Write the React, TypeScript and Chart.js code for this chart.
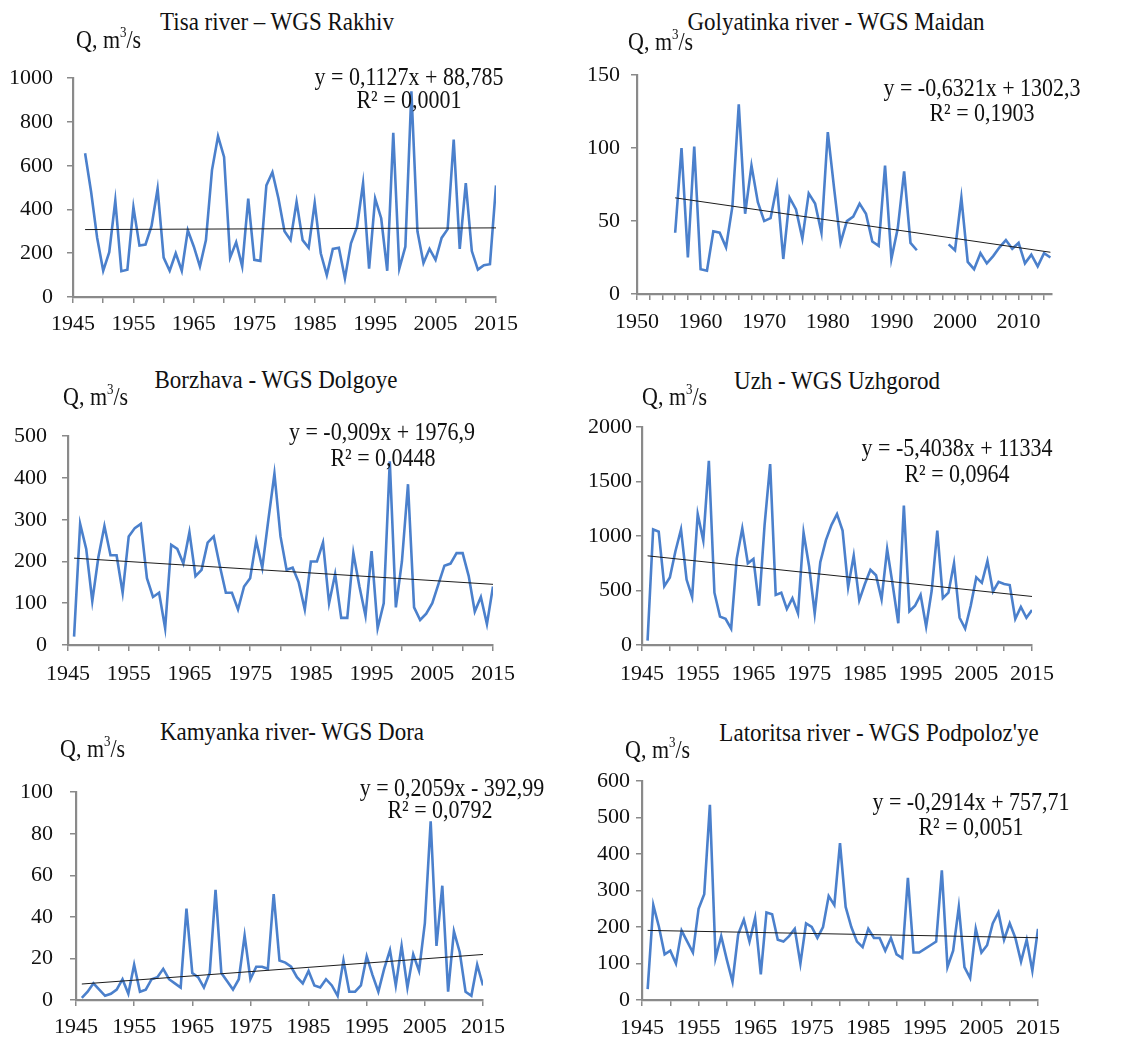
import React, { useEffect, useRef } from "react";
import { Chart, registerables } from "chart.js";

Chart.register(...registerables);

// ---------------- DATA ----------------
const tisaStart = 1947;
const tisaValues = [
  657, 480, 270, 120, 205, 440, 118, 125, 410, 235, 240, 325, 495, 180, 120, 200, 120, 305, 230, 140,
  260, 580, 735, 640, 180, 250, 140, 450, 170, 165, 510, 570, 450, 300, 260, 435, 260, 225, 430, 200,
  100, 220, 225, 85, 245, 320, 520, 130, 450, 360, 120, 750, 130, 230, 940, 300, 155, 220, 170, 270,
  310, 720, 220, 520, 210, 125, 145, 150, 510,
];

const golyatinkaStart = 1956;
const golyatinkaValues = [
  42, 100, 25, 101, 17, 16, 43, 42, 32, 60, 130, 55, 88, 63, 50, 52, 74, 24, 66, 58,
  38, 69, 62, 42, 111, 72, 35, 50, 53, 62, 55, 36, 33, 88, 24, 45, 84, 35, 30,
  null, null, null, null,
  34, 30, 66, 22, 17, 28, 21, 26, 32, 37, 31, 35, 21, 27, 19, 28, 25,
];

const borzhavaStart = 1946;
const borzhavaValues = [
  20, 290, 230, 105, 210, 285, 215, 215, 125, 260, 280, 290, 160, 115, 125, 40, 240, 230, 195, 270,
  165, 180, 245, 260, 190, 125, 125, 85, 140, 160, 250, 185, 300, 410, 260, 180, 185, 150, 85, 200,
  200, 245, 100, 170, 65, 65, 220, 140, 70, 225, 40, 100, 440, 90, 200, 385, 90, 60, 75, 100,
  145, 190, 195, 220, 220, 165, 80, 115, 50, 140,
];

const uzhStart = 1946;
const uzhValues = [
  40, 1060, 1040, 540, 620, 860, 1060, 600, 440, 1200, 960, 1690, 480, 260, 240, 150, 790, 1070, 750, 790,
  360, 1100, 1660, 460, 480, 330, 430, 290, 1030, 720, 290, 760, 960, 1100, 1200, 1050, 530, 820, 410, 560,
  690, 640, 420, 880, 550, 200, 1280, 310, 360, 460, 170, 500, 1050, 430, 480, 750, 250, 150, 360, 620,
  570, 770, 490, 580, 560, 550, 240, 350, 250, 320,
];

const kamyankaStart = 1946;
const kamyankaValues = [
  1, 4, 8, 5, 2, 3, 5, 10, 3, 17, 4, 5, 10, 11, 15, 10, 8, 6, 44, 13,
  11, 6, 13, 53, 13, 9, 5, 10, 31, 10, 16, 16, 15, 51, 19, 18, 16, 11, 8, 14,
  7, 6, 10, 7, 2, 19, 4, 4, 7, 21, 12, 4, 15, 24, 7, 26, 6, 22, 14, 37,
  86, 26, 55, 4, 33, 23, 4, 2, 17, 7,
];

const latoritsaStart = 1946;
const latoritsaValues = [
  30, 260, 200, 125, 135, 100, 190, 160, 130, 250, 290, 535, 115, 175, 110, 50, 180, 220, 160, 225,
  70, 240, 235, 165, 160, 175, 195, 100, 210, 200, 170, 200, 285, 260, 430, 255, 200, 160, 145, 195,
  170, 170, 135, 170, 125, 115, 335, 130, 130, 140, 150, 160, 355, 90, 135, 255, 90, 60, 195, 130,
  150, 210, 240, 165, 210, 170, 105, 165, 80, 195,
];

// Trendline equations (slope, intercept) as printed on the chart
const tisaTrend = [0.1127, 88.785];
const golyatinkaTrend = [-0.6321, 1302.3];
const borzhavaTrend = [-0.909, 1976.9];
const uzhTrend = [-5.4038, 11334];
const kamyankaTrend = [0.2059, -392.99];
const latoritsaTrend = [-0.2914, 757.71];

const titles = [
  "Tisa river \u2013 WGS Rakhiv",
  "Golyatinka river - WGS Maidan",
  "Borzhava - WGS Dolgoye",
  "Uzh - WGS Uzhgorod",
  "Kamyanka river- WGS Dora",
  "Latoritsa river - WGS Podpoloz'ye",
];
const equations = [
  "y = 0,1127x + 88,785",
  "y = -0,6321x + 1302,3",
  "y = -0,909x + 1976,9",
  "y = -5,4038x + 11334",
  "y = 0,2059x - 392,99",
  "y = -0,2914x + 757,71",
];
const rSquared = ["R\u00B2 = 0,0001", "R\u00B2 = 0,1903", "R\u00B2 = 0,0448", "R\u00B2 = 0,0964", "R\u00B2 = 0,0792", "R\u00B2 = 0,0051"];

// axis ranges / ticks
const xRanges = [[1945, 2015], [1950, 2015.25], [1945, 2015], [1945, 2015], [1945, 2015], [1945, 2015]];
const xMinorSteps = [5, 2, 5, 5, 10, 5];
const xLabelStep = 10;
const yMax = [1000, 150, 500, 2000, 100, 600];
const yStep = [200, 50, 100, 500, 20, 100];

// ---------------- STYLE / LAYOUT ----------------
const BLUE = "#4b80cc";
const AXIS = "#8a8a8a";
const TEXT = "#111";
const FONT = "'Liberation Serif', 'Times New Roman', serif";
const Y_W = 70;
const PAD_TOP = 20;
const PAD_RIGHT = 30;
const X_H = 40;

type Layout = {
  L: number; R: number; T: number; B: number;
  yGap: number; xPad: number;
  title: [number, number]; q: [number, number]; eq: [number, number]; r2: [number, number];
};

const layouts: Layout[] = [
  { L: 73, R: 496, T: 71, B: 297, yGap: 20, xPad: 8, title: [277, 22], q: [76, 40], eq: [409, 77], r2: [409, 100] },
  { L: 637, R: 1052, T: 71, B: 294, yGap: 17, xPad: 9, title: [836, 22], q: [628, 42], eq: [982, 88], r2: [982, 113] },
  { L: 68, R: 495, T: 428, B: 645, yGap: 21, xPad: 10, title: [276, 380], q: [63, 397], eq: [382, 432], r2: [383, 458] },
  { L: 642, R: 1034, T: 427, B: 645, yGap: 10, xPad: 10, title: [837, 381], q: [642, 397], eq: [957, 448], r2: [957, 474] },
  { L: 76, R: 483, T: 782, B: 1000, yGap: 23, xPad: 8, title: [292, 732], q: [60, 749], eq: [452, 788], r2: [440, 810] },
  { L: 642, R: 1039, T: 781, B: 1000, yGap: 12, xPad: 9, title: [879, 733], q: [625, 750], eq: [971, 802], r2: [971, 827] },
];

const series = [
  { start: tisaStart, values: tisaValues, trend: tisaTrend },
  { start: golyatinkaStart, values: golyatinkaValues, trend: golyatinkaTrend },
  { start: borzhavaStart, values: borzhavaValues, trend: borzhavaTrend },
  { start: uzhStart, values: uzhValues, trend: uzhTrend },
  { start: kamyankaStart, values: kamyankaValues, trend: kamyankaTrend },
  { start: latoritsaStart, values: latoritsaValues, trend: latoritsaTrend },
];

function Panel({ idx }: { idx: number }) {
  const ref = useRef<HTMLCanvasElement | null>(null);
  const lay = layouts[idx];
  const w = lay.R - lay.L + Y_W + PAD_RIGHT;
  const h = lay.B - lay.T + PAD_TOP + X_H;

  useEffect(() => {
    if (!ref.current) return;
    const s = series[idx];
    const points = s.values.map((v, i) => ({ x: s.start + i, y: v }));
    const lastYear = s.start + s.values.length - 1;
    const [slope, intercept] = s.trend;
    const trend = [s.start, lastYear].map((x) => ({ x, y: slope * x + intercept }));
    const [xmin, xmax] = xRanges[idx];
    const tickFont = { family: FONT, size: 22 };

    const chart = new Chart(ref.current, {
      type: "line",
      data: {
        datasets: [
          { data: trend, borderColor: "#1c1c1c", borderWidth: 1, pointRadius: 0, tension: 0 },
          { data: points as any, borderColor: BLUE, borderWidth: 2.6, pointRadius: 0, tension: 0, spanGaps: false },
        ],
      },
      options: {
        animation: false,
        responsive: false,
        maintainAspectRatio: false,
        events: [],
        layout: { padding: { left: 0, right: PAD_RIGHT, top: PAD_TOP, bottom: 0 } },
        plugins: { legend: { display: false }, tooltip: { enabled: false }, title: { display: false } },
        scales: {
          x: {
            type: "linear",
            min: xmin,
            max: xmax,
            afterFit: (sc: any) => { sc.height = X_H; },
            grid: { display: true, drawOnChartArea: false, drawTicks: true, tickLength: 6, color: AXIS, lineWidth: 1.5 },
            border: { display: true, color: AXIS, width: 2.2 },
            ticks: {
              stepSize: xMinorSteps[idx],
              includeBounds: false,
              autoSkip: false,
              maxRotation: 0,
              minRotation: 0,
              padding: lay.xPad,
              color: TEXT,
              font: tickFont,
              callback: (v: any) => ((Number(v) - xmin) % xLabelStep === 0 ? String(v) : ""),
            },
          },
          y: {
            type: "linear",
            min: 0,
            max: yMax[idx],
            afterFit: (sc: any) => { sc.width = Y_W; },
            grid: { display: true, drawOnChartArea: false, drawTicks: true, tickLength: 6, color: AXIS, lineWidth: 1.5 },
            border: { display: true, color: AXIS, width: 2.2 },
            ticks: {
              stepSize: yStep[idx],
              padding: lay.yGap - 6,
              color: TEXT,
              font: tickFont,
              callback: (v: any) => String(v),
            },
          },
        },
      },
    });
    return () => chart.destroy();
  }, [idx]);

  const center = (p: [number, number], size: number): React.CSSProperties => ({
    position: "absolute",
    left: p[0],
    top: p[1],
    transform: "translate(-50%, -50%) scaleY(1.12)",
    whiteSpace: "nowrap",
    fontSize: size,
    lineHeight: 1,
    color: TEXT,
  });

  return (
    <>
      <canvas
        ref={ref}
        width={w}
        height={h}
        style={{ position: "absolute", left: lay.L - Y_W, top: lay.T - PAD_TOP, width: w, height: h }}
      />
      <div style={center(lay.title, 23)}>{titles[idx]}</div>
      <div
        style={{
          position: "absolute",
          left: lay.q[0],
          top: lay.q[1],
          transform: "translateY(-50%) scaleY(1.12)",
          whiteSpace: "nowrap",
          fontSize: 22,
          lineHeight: 1,
          color: TEXT,
        }}
      >
        Q, m<sup style={{ fontSize: 13, verticalAlign: "top", position: "relative", top: -3 }}>3</sup>/s
      </div>
      <div style={center(lay.eq, 22)}>{equations[idx]}</div>
      <div style={center(lay.r2, 22)}>{rSquared[idx]}</div>
    </>
  );
}

export default function App() {
  return (
    <div
      style={{
        position: "absolute",
        left: 0,
        top: 0,
        width: 1143,
        height: 1041,
        overflow: "hidden",
        background: "#fff",
        fontFamily: FONT,
      }}
    >
      {layouts.map((_, i) => (
        <Panel key={i} idx={i} />
      ))}
    </div>
  );
}
